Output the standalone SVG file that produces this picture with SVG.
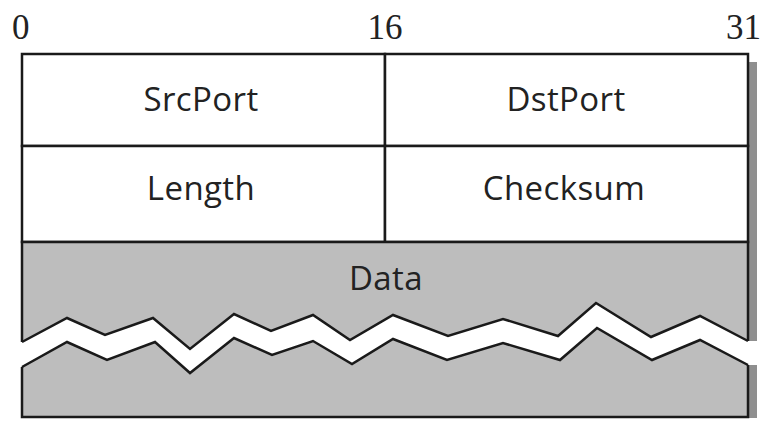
<svg xmlns="http://www.w3.org/2000/svg" width="765" height="421" viewBox="0 0 765 421">
<style>
.bits{font-family:"Liberation Serif","DejaVu Serif",serif;font-size:35px;fill:#222}
.lbl{font-family:"Open Sans","Noto Sans",sans-serif;font-size:33px;letter-spacing:0.4px;fill:#222;text-anchor:middle}
.cell{fill:#fff;stroke:#1a1a1a;stroke-width:2.5}
.zig{fill:none;stroke:#1a1a1a;stroke-width:2.5;stroke-linejoin:miter}
</style>
<rect width="765" height="421" fill="#fff"/>
<g id="header">
<text class="bits" x="12" y="39">0</text>
<text class="bits" x="385" y="39" text-anchor="middle">16</text>
<text class="bits" x="761" y="39" text-anchor="end">31</text>
</g>
<rect id="shadow" x="748" y="62" width="9" height="356" fill="#8f8f8f"/>
<g id="srcport"><rect class="cell" x="22" y="54" width="363" height="92"/><text class="lbl" x="201" y="111">SrcPort</text></g>
<g id="dstport"><rect class="cell" x="385" y="54" width="363" height="92"/><text class="lbl" x="566" y="111">DstPort</text></g>
<g id="length"><rect class="cell" x="22" y="146" width="363" height="96"/><text class="lbl" x="201" y="200">Length</text></g>
<g id="checksum"><rect class="cell" x="385" y="146" width="363" height="96"/><text class="lbl" x="564" y="200">Checksum</text></g>
<g id="data">
<rect x="22" y="242" width="726" height="175" fill="#bdbdbd" stroke="#1a1a1a" stroke-width="2.5"/>
<polygon fill="#fff" points="15,342 22,342 67,318 105,335 153,318 190,349 234,314 271,331 313,315 350,340 393,315 448,336 503,319 558,336 596,303 651,337 700,316 748,341 760,341 760,365 748,365 700,340 652,360 597,328 560,360 503,343 447,360 393,339 352,364 313,341 272,355 234,338 190,373 155,342 107,360 67,342 22,367 15,367"/>
<polyline class="zig" points="22,342 67,318 105,335 153,318 190,349 234,314 271,331 313,315 350,340 393,315 448,336 503,319 558,336 596,303 651,337 700,316 748,341"/>
<polyline class="zig" points="22,367 67,342 107,360 155,342 190,373 234,338 272,355 313,341 352,364 393,339 447,360 503,343 560,360 597,328 652,360 700,340 748,365"/>
<text class="lbl" x="386" y="290">Data</text>
</g>
</svg>
